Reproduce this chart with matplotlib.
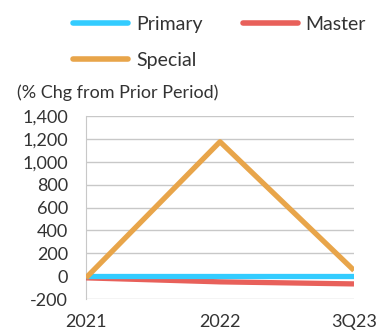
import matplotlib
matplotlib.use("Agg")
import matplotlib.pyplot as plt
from matplotlib.lines import Line2D

periods = ["2021", "2022", "3Q23"]
primary = [5, 5, 5]
master = [-15, -50, -68]
special = [-15, 1175, 50]

plt.rcParams['font.family'] = ['Lato', 'DejaVu Sans']
txt = "#333333"
c_primary = "#33CCFF"
c_master = "#E8605A"
c_special = "#E8A54A"

fig = plt.figure(figsize=(3.78, 3.30), dpi=100)
ax = fig.add_axes([0.2275, 0.0939, 0.709, 0.5546])

x = list(range(len(periods)))
ax.plot(x, master, color=c_master, lw=3.8, solid_capstyle='butt', zorder=3)
ax.plot(x, primary, color=c_primary, lw=3.8, solid_capstyle='butt', zorder=3)
ax.plot(x, special, color=c_special, lw=3.8, solid_capstyle='butt', zorder=4)

ax.set_xlim(0, 2)
ax.set_ylim(-200, 1400)
ax.set_yticks(range(-200, 1401, 200))
ax.set_yticklabels([f"{v:,}" for v in range(-200, 1401, 200)])
ax.set_xticks(x)
ax.set_xticklabels(periods)
ax.yaxis.grid(True, color="#c8c8c8", lw=1)
ax.set_axisbelow(True)
for s in ['top', 'right', 'bottom']:
    ax.spines[s].set_visible(False)
ax.spines['left'].set_color("#c8c8c8")
ax.tick_params(axis='both', length=0, labelsize=13, colors=txt)
ax.tick_params(axis='y', pad=13)
ax.tick_params(axis='x', pad=11)

fig.text(0.045, 0.72, "(% Chg from Prior Period)", fontsize=13, color=txt,
         ha='left', va='center')

handles = [Line2D([], [], color=c_primary, lw=4, solid_capstyle='round'),
           Line2D([], [], color=c_special, lw=4, solid_capstyle='round'),
           Line2D([], [], color=c_master, lw=4, solid_capstyle='round')]
labels = ["Primary", "Special", "Master"]
leg = fig.legend(handles, labels, ncol=2, loc='upper left',
                 bbox_to_anchor=(0.152, 1.0), frameon=False, fontsize=14,
                 handlelength=2.83, handletextpad=0.41, columnspacing=2.06,
                 labelspacing=0.98, borderpad=0.3)
for t in leg.get_texts():
    t.set_color(txt)

fig.savefig("out.png", dpi=100)
